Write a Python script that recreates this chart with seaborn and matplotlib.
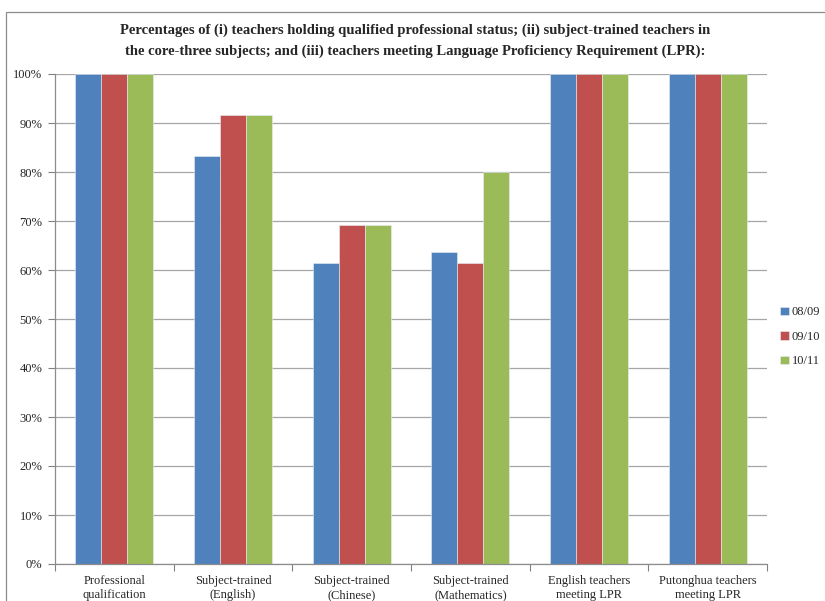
import matplotlib
matplotlib.use("Agg")
import matplotlib.pyplot as plt
from matplotlib.patches import Rectangle
from matplotlib.ticker import FixedLocator, PercentFormatter
import pandas as pd
import seaborn as sns

categories = [
    "Professional\nqualification",
    "Subject-trained\n(English)",
    "Subject-trained\n(Chinese)",
    "Subject-trained\n(Mathematics)",
    "English teachers\nmeeting LPR",
    "Putonghua teachers\nmeeting LPR",
]
years = ["08/09", "09/10", "10/11"]
pct_0809 = [100.0, 83.3, 61.5, 63.6, 100.0, 100.0]
pct_0910 = [100.0, 91.7, 69.2, 61.5, 100.0, 100.0]
pct_1011 = [100.0, 91.7, 69.2, 80.0, 100.0, 100.0]
colors = ["#4F81BD", "#C0504D", "#9BBB59"]

rows = []
for year, vals in zip(years, [pct_0809, pct_0910, pct_1011]):
    for cat, v in zip(categories, vals):
        rows.append({"category": cat, "year": year, "pct": v})
df = pd.DataFrame(rows)

sns.set_theme(style="white")
plt.rcParams["font.family"] = ["Liberation Serif", "DejaVu Serif"]

fig = plt.figure(figsize=(8.25, 6.01), dpi=100)
ax = fig.add_axes([55 / 825, 1 - 564 / 601, (767 - 55) / 825, (564 - 74) / 601])

sns.barplot(data=df, x="category", y="pct", hue="year", order=categories,
            hue_order=years, palette=colors, width=0.66, ax=ax,
            edgecolor="#E8EEF5", linewidth=0.4, saturation=1, legend=True)

ax.set_ylim(0, 100)
ax.set_xlim(-0.5, len(categories) - 0.5)
ax.yaxis.set_major_locator(FixedLocator(range(0, 101, 10)))
ax.yaxis.set_major_formatter(PercentFormatter(decimals=0))
ax.yaxis.grid(True, color="#A6A6A6", linewidth=0.9)
ax.set_axisbelow(True)
ax.set_xlabel("")
ax.set_ylabel("")

ax.tick_params(axis="y", which="major", left=True, length=5, width=0.8,
               color="#808080", labelsize=9, pad=4)
ax.tick_params(axis="x", which="major", bottom=False, labelsize=9, pad=2)
ax.xaxis.set_minor_locator(FixedLocator([i - 0.5 for i in range(len(categories) + 1)]))
ax.tick_params(axis="x", which="minor", bottom=True, length=5, width=0.8, color="#808080")
for lbl in ax.get_xticklabels():
    lbl.set_linespacing(1.2)

for side in ["top", "right"]:
    ax.spines[side].set_visible(False)
for side in ["left", "bottom"]:
    ax.spines[side].set_color("#8C8C8C")
    ax.spines[side].set_linewidth(0.9)

leg = ax.legend(loc="center left", bbox_to_anchor=(780 / 825, 1 - 337 / 601),
                bbox_transform=fig.transFigure, frameon=False, fontsize=9,
                handlelength=0.7, handleheight=0.7, handletextpad=0.25,
                labelspacing=1.0, borderaxespad=0, borderpad=0)

fig.text(0.503, 1 - 30 / 601,
         "Percentages of (i) teachers holding qualified professional status; (ii) subject-trained teachers in",
         ha="center", va="center", fontsize=10.5, fontweight="bold")
fig.text(0.503, 1 - 51 / 601,
         "the core-three subjects; and (iii) teachers meeting Language Proficiency Requirement (LPR):",
         ha="center", va="center", fontsize=10.5, fontweight="bold")

fig.patches.append(Rectangle((6 / 825, -0.05), 1.2, 1 - 12 / 601 + 0.05,
                             transform=fig.transFigure, fill=False,
                             edgecolor="#8C8C8C", linewidth=0.9))

fig.savefig("out.png", dpi=100)
